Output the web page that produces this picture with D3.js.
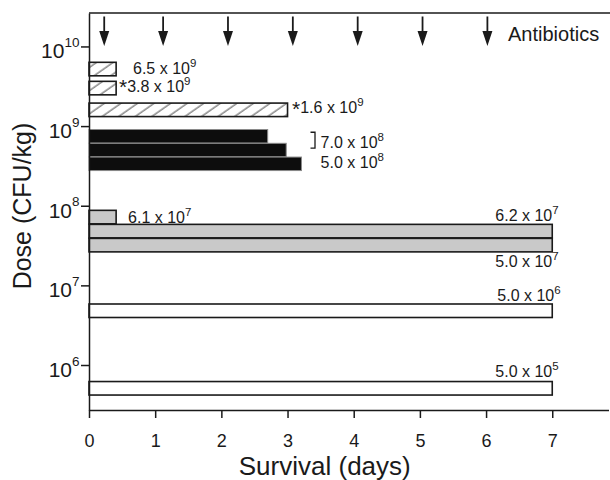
<!DOCTYPE html>
<html>
<head>
<meta charset="utf-8">
<script src="https://cdn.jsdelivr.net/npm/d3@7"></script>
<style>
  body { margin: 0; background: #fff; }
  text { font-family: "Liberation Sans", Arial, sans-serif; fill: #1a1a1a; }
</style>
</head>
<body>
<div id="chart"></div>
<script>
// bars, top to bottom
const barDose = [5.2e9, 3.0e9, 1.6e9, 7.45e8, 5.0e8, 3.36e8, 7.2e7, 4.8e7, 3.2e7, 4.8e6, 5.1e5];
const survivalDays = [0.41, 0.41, 3.0, 2.7, 2.98, 3.21, 0.41, 7, 7, 7, 7];
const barGroup = ["hatch", "hatch", "hatch", "black", "black", "black", "gray", "gray", "gray", "white", "white"];

// dose labels
const labelMantissa = ["6.5", "3.8", "1.6", "7.0", "5.0", "6.1", "6.2", "5.0", "5.0", "5.0"];
const labelExponent = [9, 9, 9, 8, 8, 7, 7, 7, 6, 5];
const labelStar = [false, true, true, false, false, false, false, false, false, false];
const labelDay = [0.665, 0.453, 3.068, 3.50, 3.50, 0.59, 6.14, 6.14, 6.17, 6.14];
const labelDose = [4.51e9, 2.70e9, 1.45e9, 5.26e8, 3.0e8, 6.07e7, 6.49e7, 1.70e7, 6.37e6, 7.06e5];

const antibioticDays = [0.23, 1.12, 2.1, 3.08, 4.06, 5.04, 6.02];
const xTicks = [0, 1, 2, 3, 4, 5, 6, 7];
const yTicks = [1e6, 1e7, 1e8, 1e9, 1e10];

const width = 610, height = 480;
const mLeft = 89, mRight = 608.5, mTop = 13, mBottom = 410;
const barH = 13.5;
const ink = "#1a1a1a";

const x = d3.scaleLinear().domain([0, 7.85]).range([mLeft, mRight]);
const y = d3.scaleLog().domain([Math.pow(10, 5.435), Math.pow(10, 10.42)]).range([mBottom, mTop]);

const svg = d3.select("#chart").append("svg")
  .attr("width", width)
  .attr("height", height);

// hatch pattern
svg.append("defs").append("pattern")
  .attr("id", "hatch")
  .attr("patternUnits", "userSpaceOnUse")
  .attr("width", 9.5)
  .attr("height", 10)
  .attr("patternTransform", "rotate(55)")
  .append("line")
  .attr("x1", 2).attr("y1", -1)
  .attr("x2", 2).attr("y2", 11)
  .attr("stroke", "#333")
  .attr("stroke-width", 0.9);

const fills = { hatch: "url(#hatch)", black: "#0d0d0d", gray: "#c9c9c9", white: "#ffffff" };
const strokes = { hatch: ink, black: "#8a8a8a", gray: ink, white: ink };

svg.append("g")
  .selectAll("rect")
  .data(barDose)
  .join("rect")
  .attr("x", x(0))
  .attr("y", d => y(d) - barH / 2)
  .attr("width", (d, i) => x(survivalDays[i]) - x(0))
  .attr("height", barH)
  .attr("fill", (d, i) => fills[barGroup[i]])
  .attr("stroke", (d, i) => strokes[barGroup[i]])
  .attr("stroke-width", (d, i) => barGroup[i] === "black" ? 1 : 1.6);

// axes
const xAxis = svg.append("g")
  .attr("transform", `translate(0, ${mBottom})`)
  .call(d3.axisBottom(x).tickValues(xTicks).tickSize(8).tickSizeOuter(0).tickPadding(16));
xAxis.selectAll("text").attr("font-size", 18);
xAxis.attr("font-family", null);

const yAxis = svg.append("g")
  .attr("transform", `translate(${mLeft}, 0)`)
  .call(d3.axisLeft(y).tickValues(yTicks).tickSize(8).tickSizeOuter(0).tickFormat(""));
yAxis.attr("font-family", null);

[xAxis, yAxis].forEach(g => {
  g.select(".domain").attr("stroke", ink).attr("stroke-width", 1.5);
  g.selectAll(".tick line").attr("stroke", ink).attr("stroke-width", 1.5);
});

const yLab = yAxis.selectAll(".tick")
  .append("text")
  .attr("x", -9.5)
  .attr("y", 11.5)
  .attr("text-anchor", "end")
  .attr("fill", ink);
yLab.append("tspan").attr("font-size", 21).text("10");
yLab.append("tspan").attr("font-size", 13.5).attr("dy", -11.5).text(d => Math.round(Math.log10(d)));

// top line
svg.append("line")
  .attr("x1", mLeft).attr("x2", width)
  .attr("y1", mTop).attr("y2", mTop)
  .attr("stroke", ink)
  .attr("stroke-width", 1.5);

// antibiotic arrows
const arrows = svg.append("g")
  .selectAll("g")
  .data(antibioticDays)
  .join("g")
  .attr("transform", d => `translate(${x(d)}, 0)`);
arrows.append("line")
  .attr("y1", 16.5).attr("y2", 34)
  .attr("stroke", ink)
  .attr("stroke-width", 1.8);
arrows.append("path")
  .attr("d", "M-5,31L5,31L0,46Z")
  .attr("fill", ink);

svg.append("text")
  .attr("x", 508)
  .attr("y", 40.5)
  .attr("font-size", 20)
  .text("Antibiotics");

// dose labels
const labels = svg.append("g")
  .selectAll("text")
  .data(labelMantissa)
  .join("text")
  .attr("x", (d, i) => x(labelDay[i]))
  .attr("y", (d, i) => y(labelDose[i]))
  .attr("font-size", 16);
labels.filter((d, i) => labelStar[i])
  .append("tspan")
  .attr("font-size", 21)
  .attr("dy", 2.5)
  .text("*");
labels.append("tspan")
  .attr("dy", (d, i) => labelStar[i] ? -2.5 : 0)
  .text(d => `${d} x 10`);
labels.append("tspan")
  .attr("font-size", 11.5)
  .attr("dy", -7)
  .text((d, i) => labelExponent[i]);

// bracket for 7.0 x 10^8
const bx = x(3.347), bx2 = x(3.415);
const by1 = y(barDose[3]) - 4, by2 = y(barDose[4]) - 2;
svg.append("path")
  .attr("d", `M${bx},${by1}H${bx2}V${by2}H${bx}`)
  .attr("fill", "none")
  .attr("stroke", ink)
  .attr("stroke-width", 1.3);

// axis titles
svg.append("text")
  .attr("x", (x(0) + x(7.85)) / 2 - 24)
  .attr("y", 475)
  .attr("text-anchor", "middle")
  .attr("font-size", 26)
  .text("Survival (days)");

svg.append("text")
  .attr("transform", `translate(31, 206) rotate(-90)`)
  .attr("text-anchor", "middle")
  .attr("font-size", 25)
  .text("Dose (CFU/kg)");
</script>
</body>
</html>
